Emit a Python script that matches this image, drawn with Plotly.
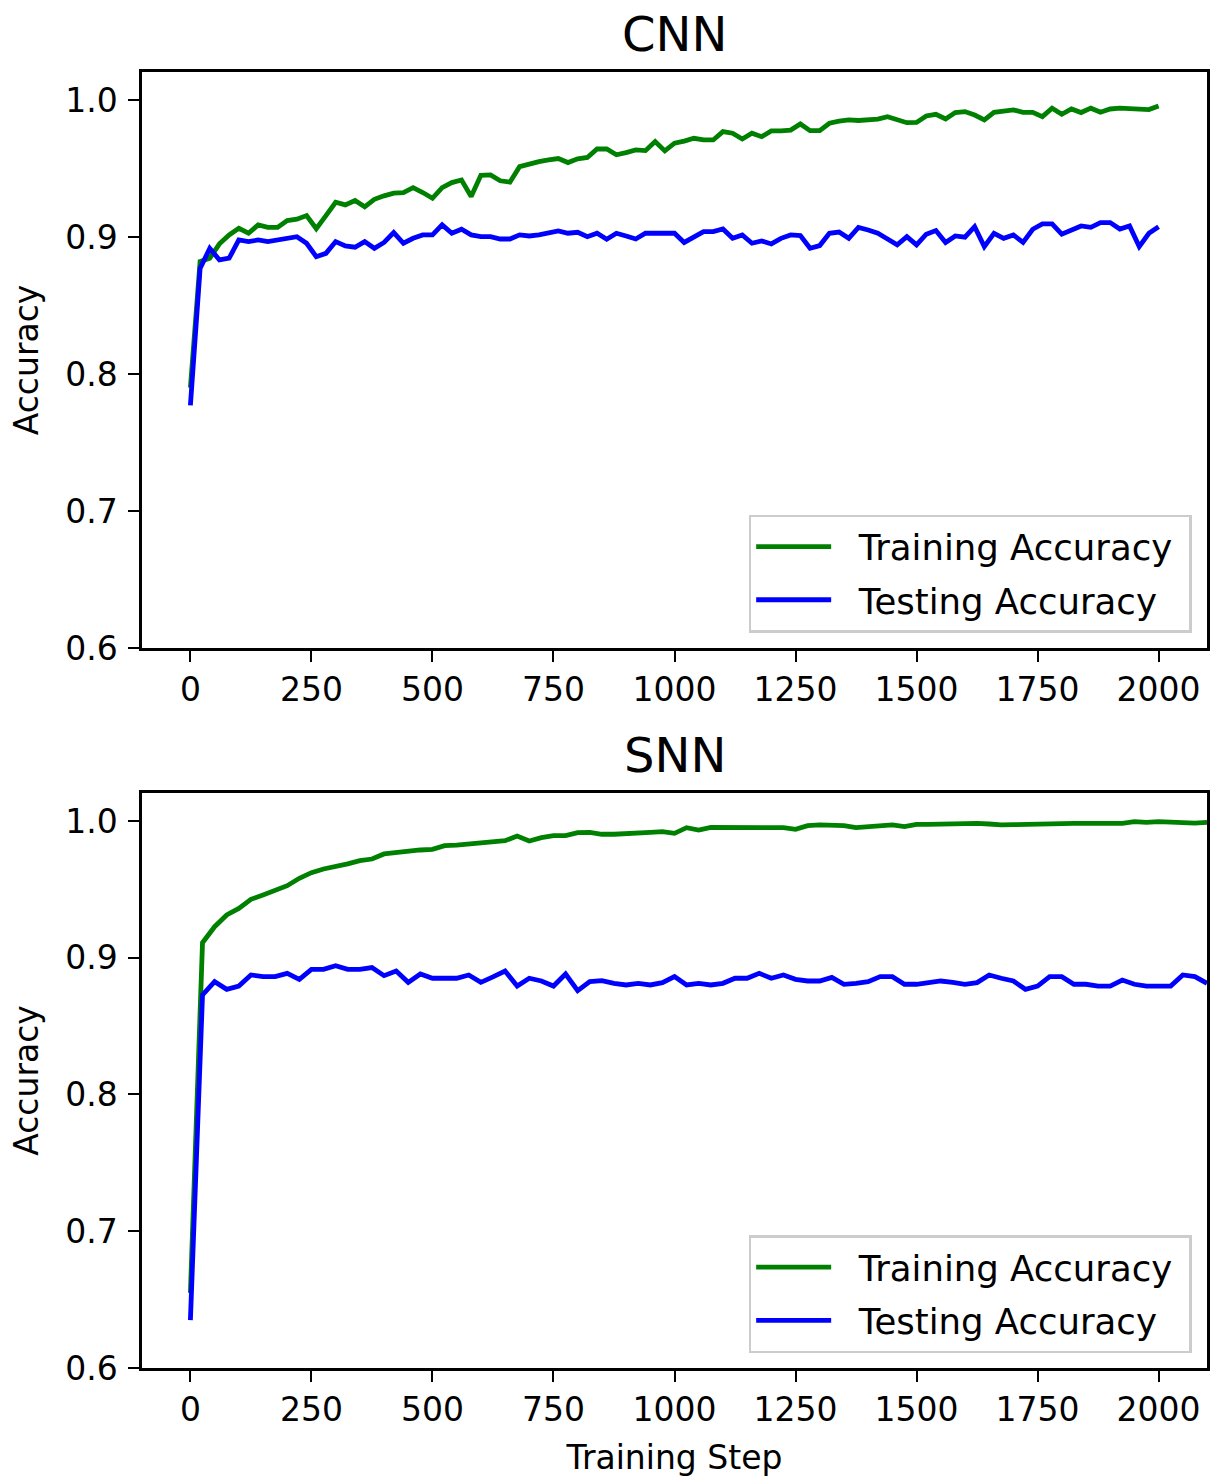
import plotly.graph_objects as go

# ---------------- data ----------------
cnn_steps = list(range(0, 2001, 20))
cnn_train = [
    0.790, 0.882, 0.8845, 0.895, 0.9015, 0.9063, 0.9027, 0.9088, 0.907, 0.907,
    0.912, 0.913, 0.9156, 0.906, 0.9156, 0.9253, 0.9234, 0.9266, 0.922, 0.9275,
    0.930, 0.932, 0.9324, 0.936, 0.9324, 0.9282, 0.936, 0.9397, 0.9416, 0.9295,
    0.945, 0.9453, 0.941, 0.940, 0.9513, 0.9533, 0.955, 0.9562, 0.9572, 0.9543,
    0.957, 0.958, 0.9642, 0.9642, 0.960, 0.9616, 0.9635, 0.963, 0.9696, 0.9628,
    0.9684, 0.970, 0.972, 0.9708, 0.9708, 0.9769, 0.9757, 0.9715, 0.9757, 0.9732,
    0.9774, 0.9774, 0.978, 0.9825, 0.9776, 0.9776, 0.983, 0.9845, 0.9854, 0.985,
    0.9854, 0.986, 0.9878, 0.986, 0.9834, 0.9836, 0.9883, 0.9895, 0.9861, 0.9908,
    0.9915, 0.989, 0.9854, 0.991, 0.9915, 0.9927, 0.991, 0.991, 0.9878, 0.994,
    0.9895, 0.9934, 0.9908, 0.994, 0.991, 0.9934, 0.994, 0.9934, 0.9934, 0.993,
    0.9956,
]
cnn_test = [
    0.777, 0.877, 0.8917, 0.8832, 0.8845, 0.8978, 0.8966, 0.8978, 0.8966, 0.8978,
    0.899, 0.9002, 0.8954, 0.8856, 0.888, 0.8966, 0.8934, 0.8925, 0.8966, 0.8917,
    0.896, 0.9032, 0.8954, 0.899, 0.9015, 0.9015, 0.9088, 0.9027, 0.9056, 0.9015,
    0.9002, 0.9002, 0.8985, 0.8985, 0.9015, 0.9007, 0.9015, 0.9034, 0.9044, 0.9027,
    0.9034, 0.9002, 0.9027, 0.8983, 0.9027, 0.9007, 0.8985, 0.9027, 0.9027, 0.9034,
    0.9027, 0.896, 0.9002, 0.9039, 0.9039, 0.9058, 0.899, 0.9015, 0.8954, 0.8971,
    0.8949, 0.899, 0.9015, 0.901, 0.8917, 0.8937, 0.9027, 0.9036, 0.899, 0.907,
    0.9051, 0.9027, 0.8985, 0.8942, 0.9002, 0.8942, 0.902, 0.9047, 0.8959, 0.9007,
    0.8998, 0.9075, 0.893, 0.9027, 0.899, 0.9015, 0.896, 0.9056, 0.9095, 0.9095,
    0.902, 0.9051, 0.908, 0.907, 0.9105, 0.9105, 0.9058, 0.908, 0.893, 0.9027,
    0.9075,
]

snn_steps = list(range(0, 2101, 25))
snn_train = [
    0.655, 0.911, 0.9227, 0.9313, 0.9361, 0.9427, 0.9459, 0.9495, 0.9527, 0.9581,
    0.9622, 0.9649, 0.9666, 0.9686, 0.971, 0.9722, 0.9759, 0.9771, 0.978, 0.9788,
    0.9793, 0.982, 0.9824, 0.9832, 0.9841, 0.9851, 0.9856, 0.989, 0.9854, 0.9878,
    0.9893, 0.9893, 0.9915, 0.9917, 0.9903, 0.9903, 0.991, 0.991, 0.9917, 0.9922,
    0.991, 0.9951, 0.9934, 0.9954, 0.9954, 0.9951, 0.9959, 0.9954, 0.9959, 0.9951,
    0.9939, 0.9966, 0.9971, 0.9968, 0.9966, 0.9951, 0.9959, 0.9971, 0.9971, 0.9959,
    0.9976, 0.9976, 0.9978, 0.9978, 0.9983, 0.9983, 0.9978, 0.9971, 0.9973, 0.9976,
    0.998, 0.9983, 0.9983, 0.9983, 0.9983, 0.9983, 0.9983, 0.9983, 0.9995, 0.999,
    0.9995, 0.999, 0.999, 0.9985, 0.999,
]
snn_test = [
    0.635, 0.8728, 0.8825, 0.8769, 0.8793, 0.8874, 0.8862, 0.8862, 0.8886, 0.8842,
    0.8915, 0.8915, 0.8942, 0.8915, 0.8915, 0.8928, 0.8869, 0.8903, 0.882, 0.8881,
    0.885, 0.885, 0.885, 0.8874, 0.882, 0.886, 0.8903, 0.8793, 0.885, 0.883,
    0.8793, 0.8881, 0.8759, 0.8825, 0.8832, 0.8813, 0.8801, 0.8813, 0.8801, 0.8818,
    0.8862, 0.8801, 0.8813, 0.8801, 0.8813, 0.885, 0.885, 0.8886, 0.885, 0.8874,
    0.8842, 0.883, 0.883, 0.8856, 0.8806, 0.8813, 0.8825, 0.8862, 0.8862, 0.8806,
    0.8806, 0.8818, 0.883, 0.882, 0.8806, 0.8818, 0.8874, 0.885, 0.883, 0.8769,
    0.8793, 0.8862, 0.8862, 0.8806, 0.8806, 0.8793, 0.8793, 0.8837, 0.8806, 0.8793,
    0.8793, 0.8793, 0.8874, 0.8862, 0.8813,
]

x_ticks = list(range(0, 2001, 250))
y_ticks = [0.6, 0.7, 0.8, 0.9, 1.0]
titles = ["CNN", "SNN"]
series_names = ["Training Accuracy", "Testing Accuracy"]

FONT = "DejaVu Sans"
GREEN = "#008000"
BLUE = "#0000ff"
LW = 4.8

fig = go.Figure()
pre = "\u00a0\u00a0"
post = "\u00a0"
fig.add_trace(go.Scatter(x=cnn_steps, y=cnn_train, mode="lines", name=pre + series_names[0] + post,
                         line=dict(color=GREEN, width=LW), xaxis="x", yaxis="y",
                         legend="legend", legendgroup="a"))
fig.add_trace(go.Scatter(x=cnn_steps, y=cnn_test, mode="lines", name=pre + series_names[1] + post,
                         line=dict(color=BLUE, width=LW), xaxis="x", yaxis="y",
                         legend="legend", legendgroup="b"))
fig.add_trace(go.Scatter(x=snn_steps, y=snn_train, mode="lines", name=pre + series_names[0] + post,
                         line=dict(color=GREEN, width=LW), xaxis="x2", yaxis="y2",
                         legend="legend2", legendgroup="c"))
fig.add_trace(go.Scatter(x=snn_steps, y=snn_test, mode="lines", name=pre + series_names[1] + post,
                         line=dict(color=BLUE, width=LW), xaxis="x2", yaxis="y2",
                         legend="legend2", legendgroup="d"))

axis_common = dict(
    showline=True, linecolor="black", linewidth=2.5, mirror=True,
    ticks="outside", ticklen=11, tickwidth=2, tickcolor="black",
    showgrid=False, zeroline=False, automargin=False,
    tickfont=dict(family=FONT, size=33, color="black"),
)

legend_common = dict(
    xanchor="right", yanchor="bottom",
    bordercolor="#cccccc", borderwidth=2.5, bgcolor="white",
    font=dict(family=FONT, size=35.5, color="black"), itemwidth=75, tracegroupgap=4,
)

fig.update_layout(
    width=1210, height=1477,
    margin=dict(l=142, r=3, t=72, b=109),
    paper_bgcolor="white", plot_bgcolor="white",
    font=dict(family=FONT, color="black"),
    xaxis=dict(domain=[0, 1], anchor="y", range=[-100, 2100], tickvals=x_ticks,
               ticklabelstandoff=0, **axis_common),
    yaxis=dict(domain=[0.5556, 1], anchor="x", range=[0.6, 1.0204], tickvals=y_ticks,
               tickformat=".1f", ticklabelstandoff=4,
               title=dict(text="Accuracy", font=dict(family=FONT, size=33), standoff=17),
               **axis_common),
    xaxis2=dict(domain=[0, 1], anchor="y2", range=[-100, 2100], tickvals=x_ticks,
                ticklabelstandoff=0,
                title=dict(text="Training Step", font=dict(family=FONT, size=33), standoff=18),
                **axis_common),
    yaxis2=dict(domain=[0, 0.4437], anchor="x2", range=[0.6, 1.0205], tickvals=y_ticks,
                tickformat=".1f", ticklabelstandoff=4,
                title=dict(text="Accuracy", font=dict(family=FONT, size=33), standoff=17),
                **axis_common),
    legend=dict(x=0.9856, y=0.5675, **legend_common),
    legend2=dict(x=0.9856, y=0.0115, **legend_common),
    annotations=[
        dict(text=titles[0], xref="paper", yref="paper", x=0.5, y=1.0294,
             xanchor="center", yanchor="middle", showarrow=False,
             font=dict(family=FONT, size=48, color="black")),
        dict(text=titles[1], xref="paper", yref="paper", x=0.5, y=0.473,
             xanchor="center", yanchor="middle", showarrow=False,
             font=dict(family=FONT, size=48, color="black")),
    ],
)

fig.write_html("out.html")
